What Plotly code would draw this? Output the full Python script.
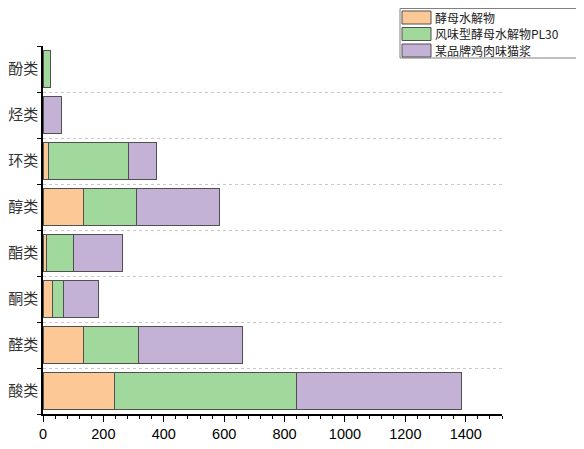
import plotly.graph_objs as go

# data, bottom to top
categories = ['酸类', '醛类', '酮类', '酯类', '醇类', '环类', '烃类', '酚类']
yeast_hydrolysate = [238, 135, 33, 13, 135, 18, 1, 3]
flavor_pl30 = [602, 182, 34, 88, 174, 266, 1, 23]
chicken_paste = [546, 343, 116, 161, 275, 91, 59, 0]

names = ['酵母水解物', '风味型酵母水解物PL30', '某品牌鸡肉味猫浆']
colors = ['#FCC896', '#A0D99B', '#C3B2D6']
edge = '#505050'

# page has an 8px body margin, so the figure is a bit smaller and everything shifts by 8
OFF = 8
W, H = 584 - OFF, 449 - OFF

fig = go.Figure()
for vals, nm, c in zip([yeast_hydrolysate, flavor_pl30, chicken_paste], names, colors):
    fig.add_trace(go.Bar(y=categories, x=vals, name=nm, orientation='h',
                         marker=dict(color=c, line=dict(color=edge, width=1)),
                         width=0.8, showlegend=False))

# plot area in (screen) pixels, used to place the hand-made legend
L, R, T, B = 43 - OFF, 502 - OFF, 46 - OFF, 414 - OFF
def px(x):
    return (x - OFF - L) / (R - L)
def py(y):
    return (B - (y - OFF)) / (B - T)

shapes = [dict(type='rect', xref='paper', yref='paper',
               x0=px(400), x1=px(580), y0=py(58), y1=py(8.5),
               line=dict(color='#808080', width=1), fillcolor='white')]
annotations = []
for i, (nm, c) in enumerate(zip(names, colors)):
    cy = 17 + 16.5 * i
    shapes.append(dict(type='rect', xref='paper', yref='paper',
                       x0=px(402), x1=px(431), y0=py(cy + 7), y1=py(cy - 6),
                       line=dict(color=edge, width=1), fillcolor=c))
    annotations.append(dict(xref='paper', yref='paper', x=px(433), y=py(cy),
                            xanchor='left', yanchor='middle', text=nm, showarrow=False,
                            font=dict(family='Noto Sans CJK SC', size=12, color='#222222')))

fig.update_layout(
    barmode='stack',
    width=W, height=H,
    margin=dict(l=L, r=W - R, t=T, b=H - B),
    plot_bgcolor='white', paper_bgcolor='white',
    font=dict(family='Liberation Sans, Arial', size=14, color='black'),
    showlegend=False,
    shapes=shapes, annotations=annotations,
)
fig.update_xaxes(range=[0, 1520], dtick=200, ticks='outside', ticklen=6,
                 tickcolor='black', showline=True, linecolor='black', linewidth=1.5,
                 showgrid=False, zeroline=False, automargin=False,
                 minor=dict(dtick=40, ticks='outside', ticklen=3, tickcolor='black'),
                 tickfont=dict(size=14.5))
fig.update_yaxes(range=[-0.5, 7.5], tickson='boundaries', ticks='outside', ticklen=4,
                 tickcolor='black', showline=True, linecolor='black', linewidth=1.5,
                 showgrid=True, gridcolor='#C8C8C8', griddash='dot', gridwidth=1,
                 automargin=False,
                 tickfont=dict(family='Noto Sans CJK SC', size=15, color='#333333'))

fig.write_html("out.html")
